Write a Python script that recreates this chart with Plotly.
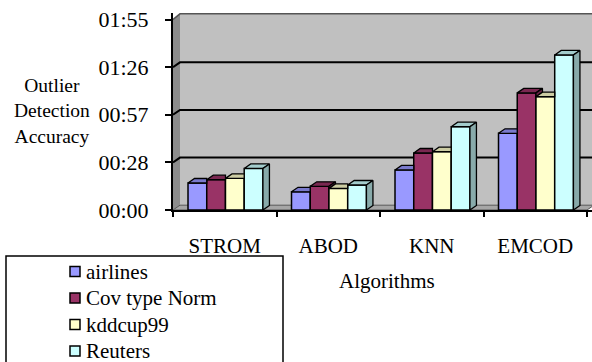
import plotly.graph_objects as go

# ---------------- data ----------------
categories = ["STROM", "ABOD", "KNN", "EMCOD"]
series_names = ["airlines", "Cov type Norm", "kddcup99", "Reuters"]
airlines = [16.3, 11.0, 24.2, 46.3]
cov_type_norm = [18.3, 14.3, 34.4, 70.7]
kddcup99 = [19.1, 13.0, 35.2, 68.4]
reuters = [25.1, 15.1, 50.3, 93.6]
tick_values = [0, 28.75, 57.5, 86.25, 115]
tick_labels = ["00:00", "00:28", "00:57", "01:26", "01:55"]

series_values = [airlines, cov_type_norm, kddcup99, reuters]
front_colors = ["#9999FF", "#993366", "#FFFFCC", "#CCFFFF"]

# ---------------- geometry / style ----------------
W, H = 592, 362
ML, MR, MT, MB = 173, 0, 13, 152
plot_w = W - ML - MR
plot_h = H - MT - MB
x_px = 103.5              # px per category unit
y_px = 190.5 / 115        # px per second
xmin = -0.5
xmax = xmin + plot_w / x_px
ymax = plot_h / y_px

FONT = "Liberation Serif"
FS = 21

def shade(hexc, f):
    hexc = hexc.lstrip("#")
    r, g, b = (int(hexc[i:i + 2], 16) for i in (0, 2, 4))
    return "rgb(%d,%d,%d)" % (r * f, g * f, b * f)

def xp(px):
    return (px - ML) / plot_w

def yp(py):
    return (H - MB - py) / plot_h

x_idx = list(range(len(categories)))
bw = 0.181
start = -0.355
bdx = 6.5 / x_px
bdy = 4.5 / y_px
wdx = 7.0 / x_px
wdy = 4.8 / y_px

fig = go.Figure()

# front faces
for k, (name, vals, col) in enumerate(zip(series_names, series_values, front_colors)):
    fig.add_trace(go.Bar(
        x=x_idx, y=vals, name=name, offset=start + k * bw, width=bw,
        marker=dict(color=col, line=dict(color="black", width=1.5)),
        showlegend=False, hoverinfo="skip"))

# top and side faces (3D look), computed from the values
for k, (vals, col) in enumerate(zip(series_values, front_colors)):
    tx, ty, sx, sy = [], [], [], []
    for i, h in enumerate(vals):
        xl = i + start + k * bw
        xr = xl + bw
        nxt = series_values[k + 1][i] if k + 1 < len(series_values) else None
        if nxt is not None and nxt > h:
            tx += [xl, xl + bdx, xr, xr, xl, None]
        else:
            tx += [xl, xl + bdx, xr + bdx, xr, xl, None]
        ty += [h, h + bdy, h + bdy, h, h, None]
        base = 0 if nxt is None else nxt
        if nxt is None or h > nxt:
            sx += [xr, xr + bdx, xr + bdx, xr, xr, None]
            sy += [base, base + bdy, h + bdy, h, base, None]
    fig.add_trace(go.Scatter(x=tx, y=ty, mode="lines", fill="toself",
                             fillcolor=shade(col, 0.8),
                             line=dict(color="black", width=1.3),
                             showlegend=False, hoverinfo="skip"))
    if sx:
        fig.add_trace(go.Scatter(x=sx, y=sy, mode="lines", fill="toself",
                                 fillcolor=shade(col, 0.67),
                                 line=dict(color="black", width=1.3),
                                 showlegend=False, hoverinfo="skip"))

shapes = []
# back wall
shapes.append(dict(type="rect", xref="x", yref="y", layer="below",
                   x0=xmin + wdx, x1=xmax + 1, y0=wdy, y1=ymax + 5,
                   fillcolor="#C0C0C0", line=dict(width=0)))
# left side wall
shapes.append(dict(type="path", xref="x", yref="y", layer="below",
                   path="M %f,0 L %f,%f L %f,%f L %f,%f Z" % (
                       xmin, xmin + wdx, wdy, xmin + wdx, ymax - 0.5, xmin, tick_values[-1]),
                   fillcolor="#8C8C8C", line=dict(width=0)))
# floor
shapes.append(dict(type="path", xref="x", yref="y", layer="below",
                   path="M %f,0 L %f,%f L %f,%f L %f,0 Z" % (
                       xmin, xmin + wdx, wdy, 3.5 + wdx, wdy, 3.5),
                   fillcolor="#A6A6A6", line=dict(color="#555555", width=1)))
# top edge of the wall
shapes.append(dict(type="path", xref="x", yref="y", layer="below",
                   path="M %f,%f L %f,%f L %f,%f" % (
                       xmin, tick_values[-1], xmin + wdx, ymax - 0.5, xmax + 1, ymax - 0.5),
                   line=dict(color="#555555", width=1.5)))
# gridlines on the walls
for v in tick_values[1:-1]:
    shapes.append(dict(type="path", xref="x", yref="y", layer="below",
                       path="M %f,%f L %f,%f L %f,%f" % (
                           xmin, v, xmin + wdx, v + wdy, xmax + 1, v + wdy),
                       line=dict(color="black", width=2)))

# legend box
annotations = []
shapes.append(dict(type="rect", xref="paper", yref="paper", layer="above",
                   x0=xp(6), x1=xp(283), y0=yp(372), y1=yp(256),
                   line=dict(color="black", width=1.5), fillcolor="rgba(0,0,0,0)"))
leg_y = [271.5, 298, 324.5, 351]
for name, col, ly in zip(series_names, front_colors, leg_y):
    shapes.append(dict(type="rect", xref="paper", yref="paper", layer="above",
                       x0=xp(70), x1=xp(80), y0=yp(ly + 5), y1=yp(ly - 5),
                       fillcolor=col, line=dict(color="black", width=1.5)))
    annotations.append(dict(xref="paper", yref="paper", x=xp(84), y=yp(ly),
                            xanchor="left", yanchor="middle", showarrow=False,
                            text=name, font=dict(family=FONT, size=FS, color="black")))

# axis titles
annotations.append(dict(xref="paper", yref="paper", x=xp(52), y=yp(111),
                        xanchor="center", yanchor="middle", showarrow=False,
                        text="Outlier<br>Detection<br>Accuracy",
                        font=dict(family=FONT, size=19.5, color="black")))
annotations.append(dict(xref="paper", yref="paper", x=xp(387), y=yp(281),
                        xanchor="center", yanchor="middle", showarrow=False,
                        text="Algorithms",
                        font=dict(family=FONT, size=FS, color="black")))

fig.update_layout(
    width=W, height=H,
    margin=dict(l=ML, r=MR, t=MT, b=MB, pad=0),
    paper_bgcolor="white", plot_bgcolor="white",
    barmode="overlay",
    showlegend=False,
    shapes=shapes, annotations=annotations,
    font=dict(family=FONT, size=FS, color="black"),
    xaxis=dict(range=[xmin, xmax], tickvals=x_idx, ticktext=categories,
               ticks="", showgrid=False, zeroline=False,
               showline=True, linecolor="black", linewidth=1.5,
               ticklabelstandoff=16,
               tickfont=dict(family=FONT, size=FS, color="black"),
               minor=dict(tickvals=[-0.5, 0.5, 1.5, 2.5, 3.5], ticks="outside",
                          ticklen=5, tickwidth=2, tickcolor="black", showgrid=False)),
    yaxis=dict(range=[0, ymax], tickvals=tick_values, ticktext=tick_labels,
               ticks="outside", ticklen=6, tickwidth=2, tickcolor="black",
               showgrid=False, zeroline=False,
               showline=True, linecolor="black", linewidth=2,
               ticklabelstandoff=12,
               tickfont=dict(family=FONT, size=22, color="black")),
)

fig.write_html("out.html")
